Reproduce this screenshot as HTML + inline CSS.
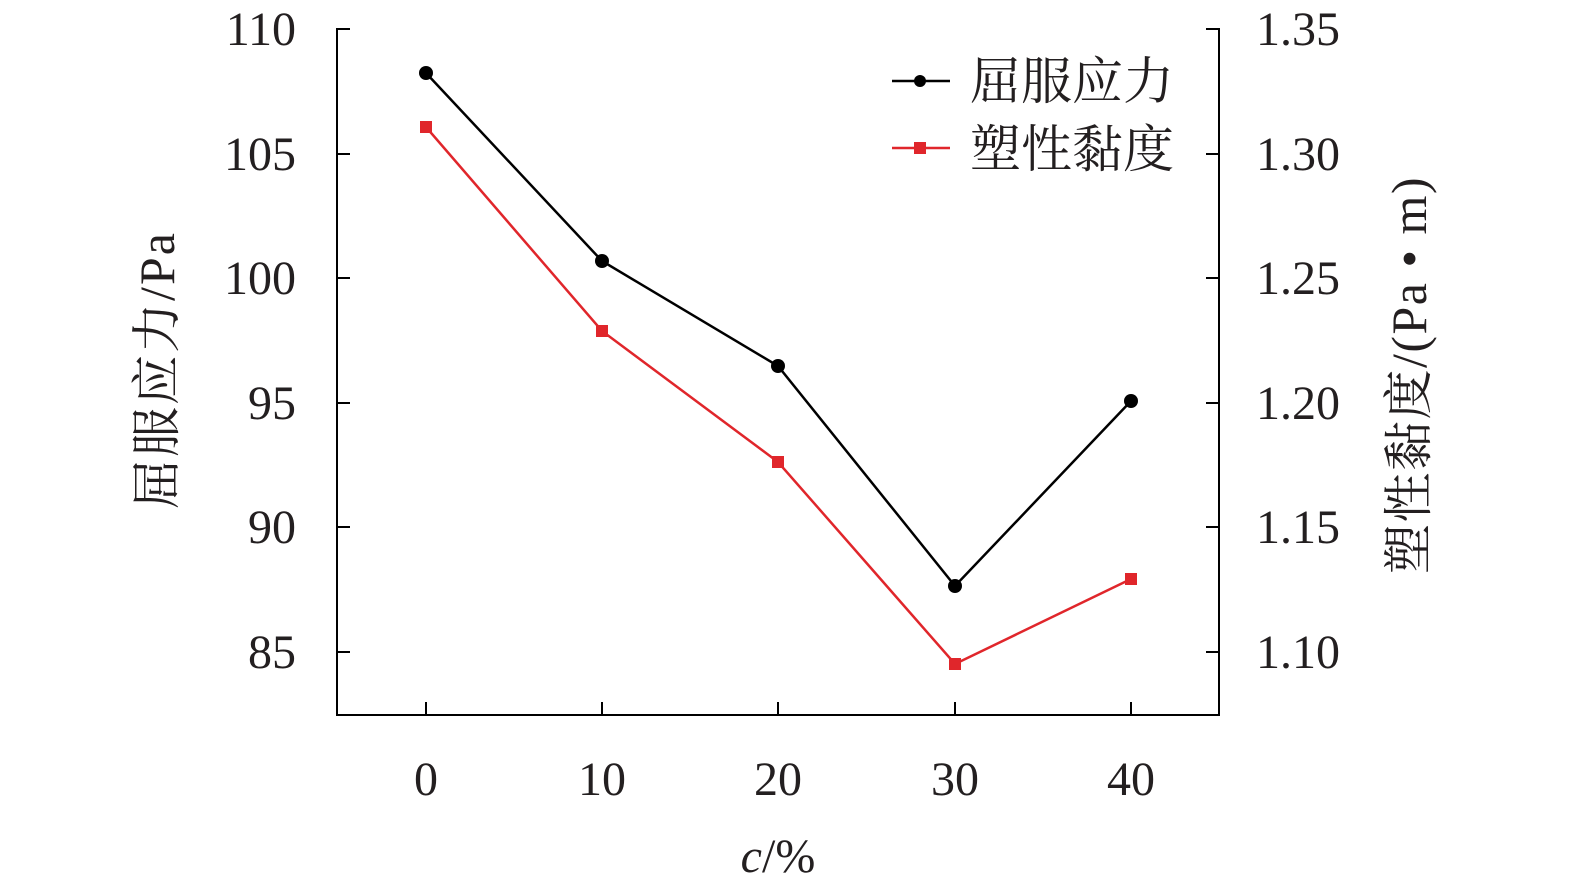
<!DOCTYPE html>
<html><head><meta charset="utf-8"><style>body{margin:0;background:#fff}</style></head>
<body>
<svg width="1575" height="890" xmlns="http://www.w3.org/2000/svg" font-family="'Liberation Serif','Noto Serif CJK SC',serif">
<rect width="1575" height="890" fill="#fff"/>
<g stroke="#000" stroke-width="2" fill="none">
<path d="M337,28 V715 H1219 V28"/>
<path d="M337,29 h13 M337,154 h13 M337,278 h13 M337,403 h13 M337,527 h13 M337,652 h13"/>
<path d="M1219,29 h-13 M1219,154 h-13 M1219,278 h-13 M1219,403 h-13 M1219,527 h-13 M1219,652 h-13"/>
<path d="M426,715 v-13 M602,715 v-13 M778,715 v-13 M955,715 v-13 M1131,715 v-13"/>
</g>
<g font-size="48" fill="#231f20" text-anchor="end">
<text x="296" y="45">110</text><text x="296" y="170">105</text><text x="296" y="294">100</text>
<text x="296" y="419">95</text><text x="296" y="543">90</text><text x="296" y="668">85</text>
</g>
<g font-size="48" fill="#231f20">
<text x="1256" y="45">1.35</text><text x="1256" y="170">1.30</text><text x="1256" y="294">1.25</text>
<text x="1256" y="419">1.20</text><text x="1256" y="543">1.15</text><text x="1256" y="668">1.10</text>
</g>
<g font-size="48" fill="#231f20" text-anchor="middle">
<text x="426" y="795">0</text><text x="602" y="795">10</text><text x="778" y="795">20</text>
<text x="955" y="795">30</text><text x="1131" y="795">40</text>
<text x="778" y="872"><tspan font-style="italic">c</tspan>/%</text>
</g>
<text transform="translate(174,370) rotate(-90)" font-size="50" text-anchor="middle" fill="#231f20" letter-spacing="2">屈服应力/Pa</text>
<text transform="translate(1426,375) rotate(-90)" font-size="50" text-anchor="middle" fill="#231f20" letter-spacing="1.5">塑性黏度/(Pa • m)</text>
<polyline points="426,73 602,261 778,366 955,586 1131,401" fill="none" stroke="#000" stroke-width="2.5"/>
<g fill="#000"><circle cx="426" cy="73" r="7"/><circle cx="602" cy="261" r="7"/><circle cx="778" cy="366" r="7"/><circle cx="955" cy="586" r="7"/><circle cx="1131" cy="401" r="7"/></g>
<polyline points="426,127 602,331 778,462 955,664 1131,579" fill="none" stroke="#e0262b" stroke-width="2.5"/>
<g fill="#e0262b"><rect x="420" y="121" width="12" height="12"/><rect x="596" y="325" width="12" height="12"/><rect x="772" y="456" width="12" height="12"/><rect x="949" y="658" width="12" height="12"/><rect x="1125" y="573" width="12" height="12"/></g>
<line x1="892" y1="81" x2="950" y2="81" stroke="#000" stroke-width="2.5"/><circle cx="920" cy="81" r="6" fill="#000"/>
<line x1="892" y1="148" x2="950" y2="148" stroke="#e0262b" stroke-width="2.5"/><rect x="914" y="142" width="12" height="12" fill="#e0262b"/>
<g font-size="51" fill="#231f20"><text x="970" y="99">屈服应力</text><text x="970" y="167">塑性黏度</text></g>
</svg>
</body></html>
